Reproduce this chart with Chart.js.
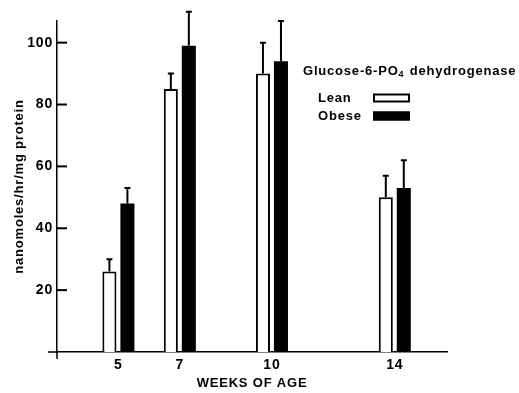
<!DOCTYPE html>
<html>
<head>
<meta charset="utf-8">
<script src="https://cdn.jsdelivr.net/npm/chart.js@4"></script>
<style>
  body { margin: 0; background: #fff; }
  #wrap { width: 519px; height: 393px; }
</style>
</head>
<body>
<div id="wrap"><canvas id="chartG6PD" width="519" height="393"></canvas></div>
<script>
/* G6PD activity, lean vs obese, by age */
const weeks = [5, 7, 10, 14];
const leanVals = [26, 85, 90, 50];
const leanErr = [4, 5, 10, 7];
const obeseVals = [48, 99, 94, 53];
const obeseErr = [5, 11, 13, 9];
const yTicks = [20, 40, 60, 80, 100];
const legendTitle = "Glucose-6-PO";
const legendTitleSub = "4";
const legendTitleEnd = " dehydrogenase";

Chart.defaults.font.family = "'Liberation Sans', Arial, sans-serif";
Chart.defaults.font.weight = "bold";
Chart.defaults.color = "#000";

function toPoints(vals) {
    return weeks.map((w, i) => ({ x: w, y: vals[i] }));
}

// a bit of tracking, the old figure lettering is wide
const spacing = {
    id: "spacing",
    beforeDraw(chart) { chart.ctx.letterSpacing = "0.8px"; }
};

// upward-only error bars with a small cap
const errorBars = {
    id: "errorBars",
    afterDatasetsDraw(chart) {
        const ctx = chart.ctx;
        const ys = chart.scales.y;
        ctx.save();
        ctx.strokeStyle = "#000";
        ctx.lineWidth = 2;
        chart.data.datasets.forEach((ds, di) => {
            const meta = chart.getDatasetMeta(di);
            meta.data.forEach((bar, i) => {
                const top = ys.getPixelForValue(ds.data[i].y + ds.errors[i]);
                ctx.beginPath();
                ctx.moveTo(bar.x, bar.y);
                ctx.lineTo(bar.x, top);
                ctx.moveTo(bar.x - 3, top);
                ctx.lineTo(bar.x + 3, top);
                ctx.stroke();
            });
        });
        ctx.restore();
    }
};

// inward y ticks and the little axis overhangs
const axisMarks = {
    id: "axisMarks",
    afterDraw(chart) {
        const ctx = chart.ctx;
        const a = chart.chartArea;
        const ys = chart.scales.y;
        ctx.save();
        ctx.strokeStyle = "#000";
        ctx.lineWidth = 1.5;
        ctx.beginPath();
        ctx.moveTo(a.left - 9, a.bottom);
        ctx.lineTo(a.left, a.bottom);
        ctx.moveTo(a.left, a.bottom);
        ctx.lineTo(a.left, a.bottom + 7);
        ctx.stroke();
        ctx.lineWidth = 2;
        yTicks.forEach(v => {
            const py = ys.getPixelForValue(v);
            ctx.beginPath();
            ctx.moveTo(a.left, py);
            ctx.lineTo(a.left + 10, py);
            ctx.stroke();
        });
        ctx.restore();
    }
};

// legend: title, then label text with swatch to its right
const boxLegend = {
    id: "boxLegend",
    afterDraw(chart) {
        const ctx = chart.ctx;
        ctx.save();
        ctx.fillStyle = "#000";
        ctx.textBaseline = "middle";
        ctx.font = "bold 13px 'Liberation Sans', Arial, sans-serif";
        let x = 303;
        ctx.fillText(legendTitle, x, 71);
        x += ctx.measureText(legendTitle).width;
        ctx.font = "bold 9px 'Liberation Sans', Arial, sans-serif";
        ctx.fillText(legendTitleSub, x, 75);
        x += ctx.measureText(legendTitleSub).width + 1;
        ctx.font = "bold 13px 'Liberation Sans', Arial, sans-serif";
        ctx.fillText(legendTitleEnd, x, 71);

        chart.data.datasets.forEach((ds, i) => {
            const y = 98 + i * 18;
            ctx.fillStyle = "#000";
            ctx.fillText(ds.label, 318, y);
            ctx.fillStyle = ds.backgroundColor;
            ctx.fillRect(373, y - 4.5, 37, 9);
            ctx.strokeStyle = "#000";
            ctx.lineWidth = 2;
            ctx.strokeRect(374, y - 3.5, 35, 7);
        });
        ctx.restore();
    }
};

var ctx = document.getElementById("chartG6PD").getContext("2d");
var chartG6PD = new Chart(ctx, {
    type: "bar",
    data: {
        datasets: [
            {
                label: "Lean",
                data: toPoints(leanVals),
                errors: leanErr,
                backgroundColor: "#fff",
                borderColor: "#000",
                borderWidth: 2
            },
            {
                label: "Obese",
                data: toPoints(obeseVals),
                errors: obeseErr,
                backgroundColor: "#000",
                borderColor: "#000",
                borderWidth: 0
            }
        ]
    },
    options: {
        responsive: false,
        animation: false,
        categoryPercentage: 0.586,
        barPercentage: 0.78,
        layout: { padding: { top: 21, right: 72, left: 0, bottom: 0 } },
        plugins: {
            legend: { display: false },
            tooltip: { enabled: false }
        },
        scales: {
            x: {
                type: "linear",
                offset: false,
                min: 3,
                max: 15.7,
                afterBuildTicks: s => { s.ticks = weeks.map(v => ({ value: v })); },
                afterFit: s => { s.height = 41; },
                grid: { display: false, drawTicks: false, offset: false },
                border: { display: true, color: "#000", width: 1.5 },
                ticks: { padding: 5, font: { size: 14 }, autoSkip: false, maxRotation: 0 },
                title: {
                    display: true,
                    text: "WEEKS OF AGE",
                    font: { size: 13 },
                    padding: { top: 2, bottom: 2 }
                }
            },
            y: {
                min: 0,
                max: 107,
                afterBuildTicks: s => { s.ticks = yTicks.map(v => ({ value: v })); },
                afterFit: s => { s.width = 57; },
                grid: { display: false, drawTicks: false },
                border: { display: true, color: "#000", width: 1.5 },
                ticks: { padding: 4, font: { size: 14 } },
                title: {
                    display: true,
                    text: "nanomoles/hr/mg protein",
                    font: { size: 13 },
                    padding: { top: 12, bottom: 2 }
                }
            }
        }
    },
    plugins: [spacing, errorBars, axisMarks, boxLegend]
});
</script>
</body>
</html>
